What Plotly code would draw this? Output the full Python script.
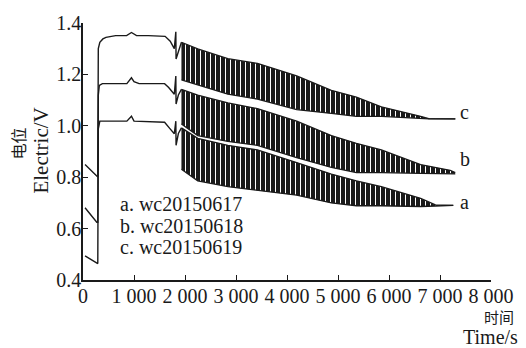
import plotly.graph_objects as go

# ---- data ----
# smooth part of each record (time s, potential V)
a_pre_t = [40, 270, 290, 300, 330, 860, 950, 1000, 1600, 1700, 1790, 1820, 1825, 1870, 1930]
a_pre_v = [0.494, 0.464, 0.464, 0.988, 1.018, 1.018, 1.037, 1.018, 1.014, 0.990, 0.969, 1.018, 0.924, 0.970, 0.992]
b_pre_t = [40, 270, 290, 300, 320, 380, 860, 950, 1000, 1100, 1600, 1680, 1790, 1820, 1825, 1870, 1930]
b_pre_v = [0.681, 0.625, 0.625, 1.119, 1.157, 1.164, 1.164, 1.187, 1.172, 1.164, 1.164, 1.149, 1.123, 1.194, 1.085, 1.120, 1.142]
c_pre_t = [40, 270, 290, 300, 330, 390, 450, 640, 855, 950, 1050, 1280, 1610, 1710, 1790, 1820, 1825, 1870, 1930]
c_pre_v = [0.849, 0.801, 0.801, 1.300, 1.325, 1.338, 1.344, 1.351, 1.351, 1.363, 1.351, 1.351, 1.348, 1.329, 1.300, 1.366, 1.260, 1.288, 1.325]

# oscillating part: upper and lower envelopes
a_osc_t = [1930, 2250, 2840, 3420, 4190, 4870, 5360, 5850, 6620, 6910, 7260]
a_osc_top = [0.992, 0.951, 0.924, 0.906, 0.857, 0.812, 0.786, 0.763, 0.718, 0.692, 0.690]
a_osc_bot = [0.831, 0.786, 0.763, 0.748, 0.730, 0.700, 0.689, 0.689, 0.686, 0.688, 0.690]
b_osc_t = [1930, 2250, 2840, 3420, 4190, 4870, 5360, 5850, 6620, 7200, 7300]
b_osc_top = [1.142, 1.119, 1.089, 1.067, 1.018, 0.962, 0.932, 0.906, 0.849, 0.827, 0.818]
b_osc_bot = [1.007, 0.962, 0.939, 0.924, 0.876, 0.838, 0.818, 0.818, 0.815, 0.813, 0.813]
c_osc_t = [1930, 2250, 2840, 3420, 4190, 4870, 5360, 5850, 6620, 6780, 7300]
c_osc_top = [1.325, 1.299, 1.261, 1.243, 1.194, 1.138, 1.112, 1.074, 1.037, 1.028, 1.027]
c_osc_bot = [1.179, 1.160, 1.123, 1.104, 1.063, 1.048, 1.037, 1.037, 1.027, 1.027, 1.027]

curve_names = ["a", "b", "c"]
legend_lines = ["a. wc20150617", "b. wc20150618", "c. wc20150619"]
legend_t = [700, 700, 700]
legend_v = [0.697, 0.609, 0.528]
end_label_t = [7370, 7370, 7370]
end_label_v = [0.705, 0.872, 1.052]

x_ticks = [0, 1000, 2000, 3000, 4000, 5000, 6000, 7000, 8000]
x_tick_text = ["0", "1 000", "2 000", "3 000", "4 000", "5 000", "6 000", "7 000", "8 000"]
y_ticks = [0.4, 0.6, 0.8, 1.0, 1.2, 1.4]
y_tick_text = ["0.4", "0.6", "0.8", "1.0", "1.2", "1.4"]

# ---- figure ----
INK = "#1a1a1a"
SERIF = "Liberation Serif"
CJK = "Noto Sans CJK SC"
fig = go.Figure()

records = [
    (a_pre_t, a_pre_v, a_osc_t, a_osc_top, a_osc_bot),
    (b_pre_t, b_pre_v, b_osc_t, b_osc_top, b_osc_bot),
    (c_pre_t, c_pre_v, c_osc_t, c_osc_top, c_osc_bot),
]
for name, (pt, pv, ot, otop, obot) in zip(curve_names, records):
    fig.add_trace(go.Scatter(x=ot, y=obot, mode="lines",
                             line=dict(color=INK, width=1.3),
                             showlegend=False, hoverinfo="skip"))
    fig.add_trace(go.Scatter(x=ot, y=otop, mode="lines", fill="tonexty",
                             fillcolor=INK,
                             fillpattern=dict(shape="|", size=5, solidity=0.2,
                                              fgcolor="white", bgcolor=INK,
                                              fillmode="replace"),
                             line=dict(color=INK, width=1.3),
                             showlegend=False, hoverinfo="skip"))
    fig.add_trace(go.Scatter(x=pt, y=pv, mode="lines", name=name,
                             line=dict(color=INK, width=1.4),
                             showlegend=False))

for name, lt, lv in zip(curve_names, end_label_t, end_label_v):
    fig.add_annotation(x=lt, y=lv, xref="x", yref="y", text=name, showarrow=False,
                       xanchor="left", yanchor="middle", borderpad=0,
                       font=dict(family=SERIF, size=20, color=INK))

for line, lt, lv in zip(legend_lines, legend_t, legend_v):
    fig.add_annotation(x=lt, y=lv, xref="x", yref="y",
                       text=line, showarrow=False, xanchor="left", yanchor="middle",
                       borderpad=0, font=dict(family=SERIF, size=20, color=INK))

# axis titles
fig.add_annotation(x=-0.16, y=0.53, xref="paper", yref="paper", text="电位",
                   textangle=-90, showarrow=False, xanchor="center", yanchor="middle",
                   borderpad=0, font=dict(family=CJK, size=16, color=INK))
fig.add_annotation(x=-0.104, y=0.502, xref="paper", yref="paper", text="Electric/V",
                   textangle=-90, showarrow=False, xanchor="center", yanchor="middle",
                   borderpad=0, font=dict(family=SERIF, size=21, color=INK))
fig.add_annotation(x=1.06, y=-0.097, xref="paper", yref="paper", text="时间",
                   showarrow=False, xanchor="right", yanchor="top", borderpad=0,
                   font=dict(family=CJK, size=15, color=INK))
fig.add_annotation(x=1.068, y=-0.268, xref="paper", yref="paper", text="Time/s",
                   showarrow=False, xanchor="right", yanchor="bottom", borderpad=0,
                   font=dict(family=SERIF, size=20, color=INK))

fig.update_layout(
    width=526, height=348,
    margin=dict(l=83, r=31, t=13, b=68),
    paper_bgcolor="white", plot_bgcolor="white",
    font=dict(family=SERIF, size=20, color=INK),
    showlegend=False,
)
fig.update_xaxes(range=[0, 8000], tickvals=x_ticks, ticktext=x_tick_text,
                 ticks="inside", ticklen=5, tickwidth=1.3, tickcolor=INK,
                 showline=True, linecolor=INK, linewidth=1.5,
                 showgrid=False, zeroline=False, ticklabelstandoff=-3,
                 tickfont=dict(family=SERIF, size=20, color=INK))
fig.update_yaxes(range=[0.4, 1.4], tickvals=y_ticks, ticktext=y_tick_text,
                 ticks="inside", ticklen=5, tickwidth=1.3, tickcolor=INK,
                 showline=True, linecolor=INK, linewidth=1.5,
                 showgrid=False, zeroline=False, ticklabelstandoff=-4,
                 tickfont=dict(family=SERIF, size=20, color=INK))

fig.write_html("out.html")
